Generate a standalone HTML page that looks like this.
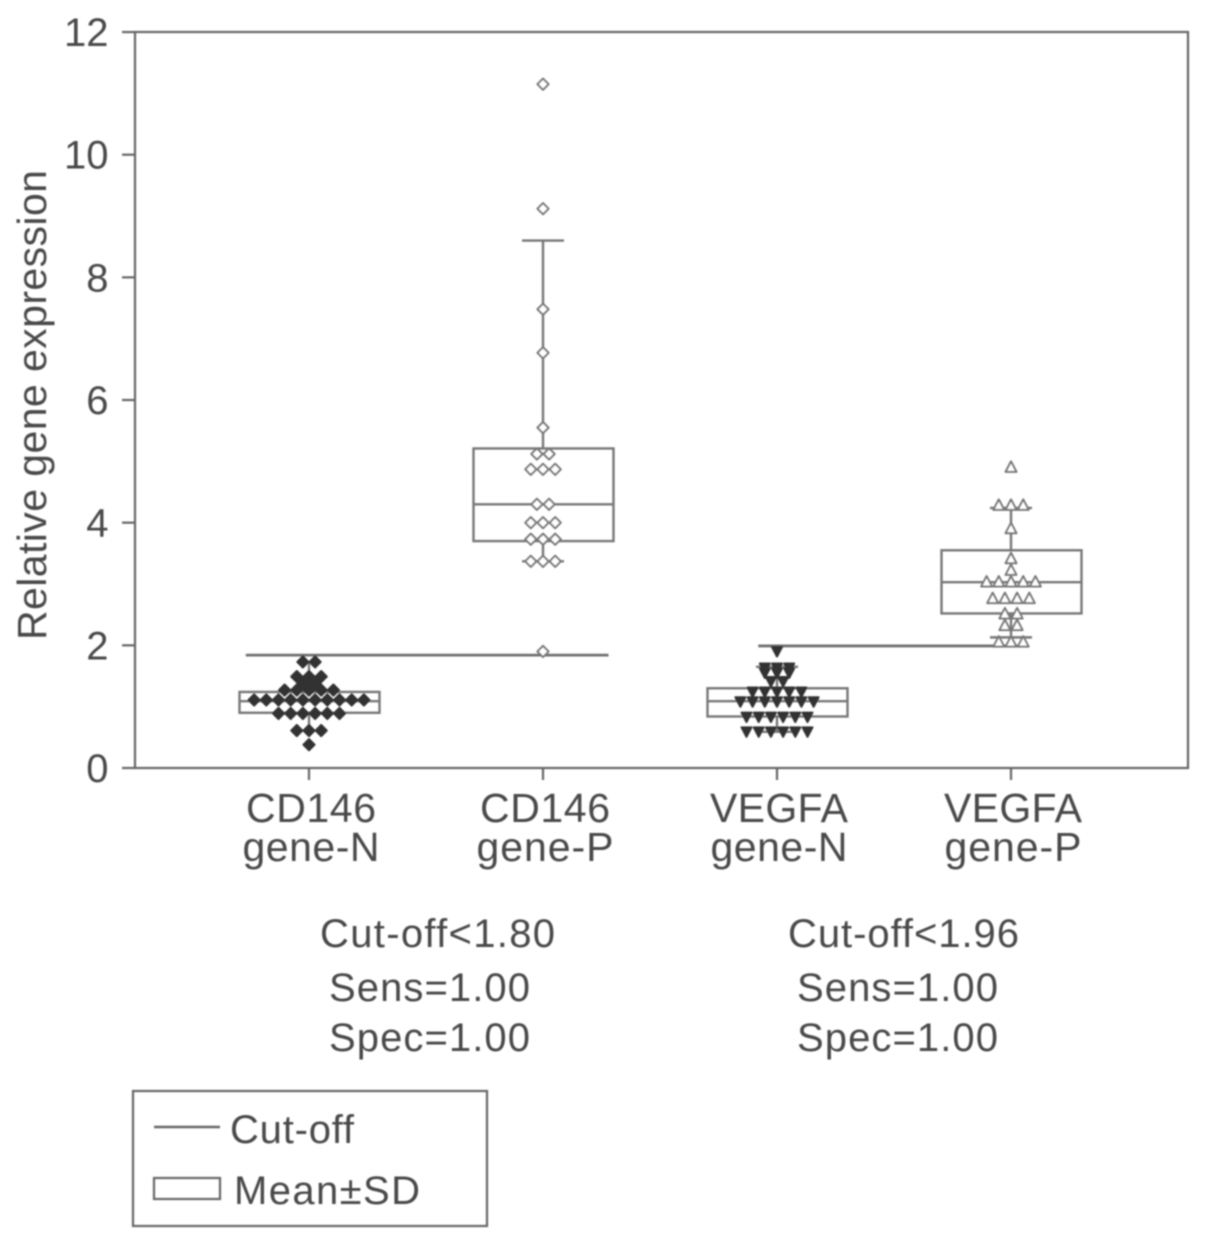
<!DOCTYPE html>
<html lang="en">
<head>
<meta charset="utf-8">
<title>Relative gene expression</title>
<style>
html,body{margin:0;padding:0;background:#fff;}
svg{display:block;}
text{font-family:"Liberation Sans",sans-serif;fill:#4a4a4a;}
.axis-label{font-size:41px;}
.tick-label{font-size:40px;}
.note{font-size:40px;}
</style>
</head>
<body>
<svg id="chart" width="1205" height="1243" viewBox="0 0 1205 1243" xmlns="http://www.w3.org/2000/svg">
<defs>
<filter id="soft" x="-2%" y="-2%" width="104%" height="104%"><feGaussianBlur stdDeviation="0.7"/></filter>
</defs>
<g filter="url(#soft)">
<rect x="135" y="32" width="1053" height="736" fill="none" stroke="#666" stroke-width="2.2"/>
<g id="ticks"></g>
<g id="boxes"></g>
<g id="cutoffs"></g>
<g id="points"></g>
<g id="labels"></g>

<text class="axis-label" transform="translate(46,640) rotate(-90)" textLength="470" lengthAdjust="spacing">Relative gene expression</text>

<text class="note" x="320" y="947" textLength="235" lengthAdjust="spacing">Cut-off&lt;1.80</text>
<text class="note" x="329" y="1001" textLength="201" lengthAdjust="spacing">Sens=1.00</text>
<text class="note" x="329" y="1051" textLength="201" lengthAdjust="spacing">Spec=1.00</text>
<text class="note" x="788" y="947" textLength="231" lengthAdjust="spacing">Cut-off&lt;1.96</text>
<text class="note" x="797" y="1001" textLength="201" lengthAdjust="spacing">Sens=1.00</text>
<text class="note" x="797" y="1051" textLength="201" lengthAdjust="spacing">Spec=1.00</text>

<g>
<rect x="133" y="1091" width="354" height="135" fill="none" stroke="#666" stroke-width="2.2"/>
<line x1="154" y1="1127" x2="220" y2="1127" stroke="#666" stroke-width="2.5"/>
<text class="note" x="230" y="1143" textLength="124" lengthAdjust="spacing">Cut-off</text>
<rect x="154" y="1178" width="66" height="21" fill="none" stroke="#666" stroke-width="2.2"/>
<text class="note" x="234" y="1204" textLength="186" lengthAdjust="spacing">Mean±SD</text>
</g>
</g>
</svg>
<script>
var categoryTop = ["CD146", "CD146", "VEGFA", "VEGFA"];
var categoryBottom = ["gene-N", "gene-P", "gene-N", "gene-P"];
var yTicks = [0, 2, 4, 6, 8, 10, 12];

var boxLow = [0.90, 3.70, 0.84, 2.52];
var boxMid = [1.09, 4.30, 1.09, 3.03];
var boxHigh = [1.24, 5.21, 1.30, 3.55];
var whiskerLow = [0.60, 3.37, 0.59, 2.13];
var whiskerHigh = [1.73, 8.60, 1.65, 4.24];

var cutoffValues = [1.84, 1.99];
var cutoffStart = [-0.27, 1.92];
var cutoffEnd = [1.28, 3.07];

var cd146NRowValues = [1.73, 1.49, 1.38, 1.27, 1.11, 0.89, 0.61, 0.38];
var cd146NRowCounts = [2, 3, 2, 5, 10, 6, 3, 1];
var cd146PRowValues = [11.15, 9.12, 7.48, 6.77, 5.55, 5.12, 4.87, 4.30, 4.00, 3.73, 3.37, 1.90];
var cd146PRowCounts = [1, 1, 1, 1, 1, 2, 3, 2, 3, 3, 3, 1];
var vegfaNRowValues = [1.90, 1.63, 1.55, 1.41, 1.24, 1.08, 0.83, 0.59];
var vegfaNRowCounts = [1, 3, 3, 2, 5, 7, 6, 6];
var vegfaPRowValues = [4.91, 4.29, 3.91, 3.42, 3.23, 3.04, 2.77, 2.52, 2.33, 2.06];
var vegfaPRowCounts = [1, 3, 1, 1, 1, 5, 4, 2, 2, 3];

var NS = "http://www.w3.org/2000/svg";
function yScale(v) { return 768 - v * 61.33; }
function xScale(i) { return 309 + i * 234; }
var swarmStep = 12.2;
var boxHalf = 70;
var capHalf = 21;

function make(tag, attrs, parent) {
  var el = document.createElementNS(NS, tag);
  for (var k in attrs) { el.setAttribute(k, attrs[k]); }
  parent.appendChild(el);
  return el;
}

var ticksG = document.getElementById("ticks");
var labelsG = document.getElementById("labels");
var boxesG = document.getElementById("boxes");
var cutG = document.getElementById("cutoffs");
var ptsG = document.getElementById("points");

yTicks.forEach(function (t) {
  var line = make("line", {x1: 122, x2: 135, y1: yScale(t), y2: yScale(t), stroke: "#666", "stroke-width": 2.2}, ticksG);
  
  
  var label = make("text", {x: 108.5, y: yScale(t) + 14, "text-anchor": "end", "class": "tick-label"}, labelsG);
  
  
  label.textContent = String(t);
});

categoryTop.forEach(function (name, i) {
  var cx = xScale(i);
  var tick = make("line", {x1: cx, x2: cx, y1: 768, y2: 780, stroke: "#666", "stroke-width": 2.2}, ticksG);
  
  
  var top = make("text", {x: cx + 2, y: 822, "text-anchor": "middle", "class": "axis-label", textLength: name === "CD146" ? 130 : 138, lengthAdjust: "spacing"}, labelsG);
  
  
  top.textContent = name;
  var bottom = make("text", {x: cx + 2, y: 861, "text-anchor": "middle", "class": "axis-label", textLength: 137, lengthAdjust: "spacing"}, labelsG);
  
  
  bottom.textContent = categoryBottom[i];

  var box = make("rect", {x: cx - boxHalf + 0.5, y: yScale(boxHigh[i]), width: boxHalf * 2, height: yScale(boxLow[i]) - yScale(boxHigh[i]), fill: "none", stroke: "#777", "stroke-width": 2.4}, boxesG);
  
  
  var mid = make("line", {x1: cx - boxHalf, x2: cx + boxHalf, y1: yScale(boxMid[i]), y2: yScale(boxMid[i]), stroke: "#777", "stroke-width": 2.4}, boxesG);
  
  
  var up = make("line", {x1: cx, x2: cx, y1: yScale(boxHigh[i]), y2: yScale(whiskerHigh[i]), stroke: "#777", "stroke-width": 2.4}, boxesG);
  
  
  var down = make("line", {x1: cx, x2: cx, y1: yScale(boxLow[i]), y2: yScale(whiskerLow[i]), stroke: "#777", "stroke-width": 2.4}, boxesG);
  
  
  if (i > 0) {
    var capUp = make("line", {x1: cx - capHalf, x2: cx + capHalf, y1: yScale(whiskerHigh[i]), y2: yScale(whiskerHigh[i]), stroke: "#777", "stroke-width": 2.4}, boxesG);
    
    
    var capDown = make("line", {x1: cx - capHalf, x2: cx + capHalf, y1: yScale(whiskerLow[i]), y2: yScale(whiskerLow[i]), stroke: "#777", "stroke-width": 2.4}, boxesG);
    
    
  }
});

cutoffValues.forEach(function (v, i) {
  var line = make("line", {x1: xScale(cutoffStart[i]), x2: xScale(cutoffEnd[i]), y1: yScale(v), y2: yScale(v), stroke: "#707070", "stroke-width": 2.8}, cutG);
  
  
});

function markerPath(kind, x, y) {
  if (kind === "diamond") {
    return "M" + x + " " + (y - 5.6) + "L" + (x + 5.6) + " " + y + "L" + x + " " + (y + 5.6) + "L" + (x - 5.6) + " " + y + "Z";
  }
  if (kind === "down") {
    return "M" + (x - 5) + " " + (y - 4.5) + "L" + (x + 5) + " " + (y - 4.5) + "L" + x + " " + (y + 5) + "Z";
  }
  return "M" + (x - 5.5) + " " + (y + 5) + "L" + (x + 5.5) + " " + (y + 5) + "L" + x + " " + (y - 5.5) + "Z";
}

function drawGroup(i, values, counts, kind, fill, stroke) {
  values.forEach(function (v, r) {
    var n = counts[r];
    for (var k = 0; k < n; k++) {
      var px = xScale(i) + (k - (n - 1) / 2) * swarmStep;
      var p = make("path", {d: markerPath(kind, px, yScale(v)), fill: fill, stroke: stroke, "stroke-width": 2, "stroke-linejoin": "round"}, ptsG);
      
      
    }
  });
}

drawGroup(0, cd146NRowValues, cd146NRowCounts, "diamond", "#333", "#333");
drawGroup(1, cd146PRowValues, cd146PRowCounts, "diamond", "#fff", "#777");
drawGroup(2, vegfaNRowValues, vegfaNRowCounts, "down", "#333", "#333");
drawGroup(3, vegfaPRowValues, vegfaPRowCounts, "up", "#fff", "#777");
</script>
</body>
</html>
